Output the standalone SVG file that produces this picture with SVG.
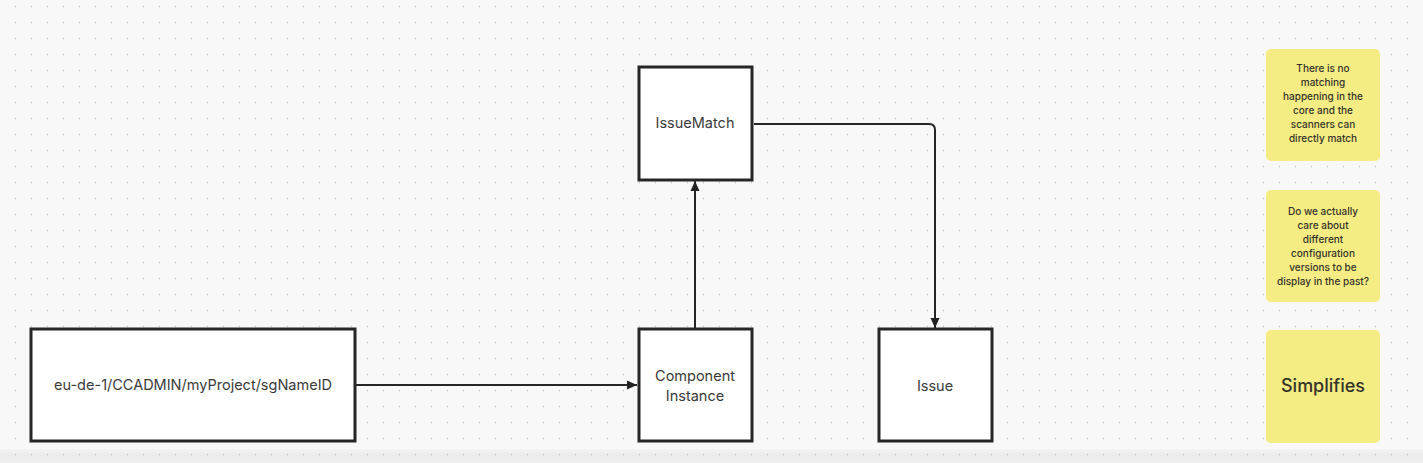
<svg xmlns="http://www.w3.org/2000/svg" width="1423" height="463" viewBox="0 0 1423 463">
  <defs>
    <pattern id="dots" x="0" y="0" width="16" height="16" patternUnits="userSpaceOnUse">
      <circle cx="16" cy="6.5" r="1" fill="#bdbdbd"/>
    </pattern>
    <linearGradient id="bar" x1="0" y1="0" x2="0" y2="1">
      <stop offset="0" stop-color="#f4f4f4"/>
      <stop offset="0.4" stop-color="#ececec"/>
      <stop offset="1" stop-color="#efefef"/>
    </linearGradient>
    <marker id="arrow" viewBox="0 0 10 10" refX="10" refY="5" markerWidth="10" markerHeight="10" markerUnits="userSpaceOnUse" orient="auto">
      <path d="M0,0.5 L10,5 L0,9.5 Z" fill="#222"/>
    </marker>
  </defs>
  <style>
    .node { fill: #ffffff; stroke: #262626; stroke-width: 3; }
    .label { font-family: Inter, "Liberation Sans", sans-serif; font-size: 14.5px; fill: #3a3a3a; text-anchor: middle; }
    .sticky { fill: #f6ec84; }
    .note { font-family: Inter, "Liberation Sans", sans-serif; font-size: 10px; font-weight: 500; fill: #33332a; text-anchor: middle; }
    .conn { fill: none; stroke: #262626; stroke-width: 2; marker-end: url(#arrow); }
  </style>
  <rect x="0" y="0" width="1423" height="463" fill="#f8f8f8"/>
  <rect x="0" y="449" width="1423" height="14" fill="url(#bar)"/>
  <rect x="0" y="0" width="1423" height="463" fill="url(#dots)"/>

  <g id="connectors">
    <path class="conn" d="M356,385 H637"/>
    <path class="conn" d="M695,328 V181"/>
    <path class="conn" d="M754,124 H929 Q935,124 935,130 V328"/>
  </g>

  <g id="node-path">
    <rect class="node" x="31" y="329" width="324" height="112"/>
    <text class="label" x="193" y="390">eu-de-1/CCADMIN/myProject/sgNameID</text>
  </g>
  <g id="node-issuematch">
    <rect class="node" x="639" y="67" width="113" height="113"/>
    <text class="label" x="695" y="128">IssueMatch</text>
  </g>
  <g id="node-component">
    <rect class="node" x="639" y="329" width="113" height="112"/>
    <text class="label" x="695" y="381">Component</text>
    <text class="label" x="695" y="401">Instance</text>
  </g>
  <g id="node-issue">
    <rect class="node" x="879" y="329" width="113" height="112"/>
    <text class="label" x="935" y="391">Issue</text>
  </g>

  <g id="note-1">
    <rect class="sticky" x="1266" y="49" width="114" height="112" rx="5"/>
    <text class="note" x="1323" y="72">There is no</text>
    <text class="note" x="1323" y="86">matching</text>
    <text class="note" x="1323" y="100">happening in the</text>
    <text class="note" x="1323" y="114">core and the</text>
    <text class="note" x="1323" y="128">scanners can</text>
    <text class="note" x="1323" y="142">directly match</text>
  </g>
  <g id="note-2">
    <rect class="sticky" x="1266" y="190" width="114" height="112" rx="5"/>
    <text class="note" x="1323" y="215">Do we actually</text>
    <text class="note" x="1323" y="229">care about</text>
    <text class="note" x="1323" y="243">different</text>
    <text class="note" x="1323" y="257">configuration</text>
    <text class="note" x="1323" y="271">versions to be</text>
    <text class="note" x="1323" y="285">display in the past?</text>
  </g>
  <g id="note-3">
    <rect class="sticky" x="1266" y="330" width="114" height="113" rx="5"/>
    <text class="note" x="1323" y="392" style="font-size:18px">Simplifies</text>
  </g>
</svg>
